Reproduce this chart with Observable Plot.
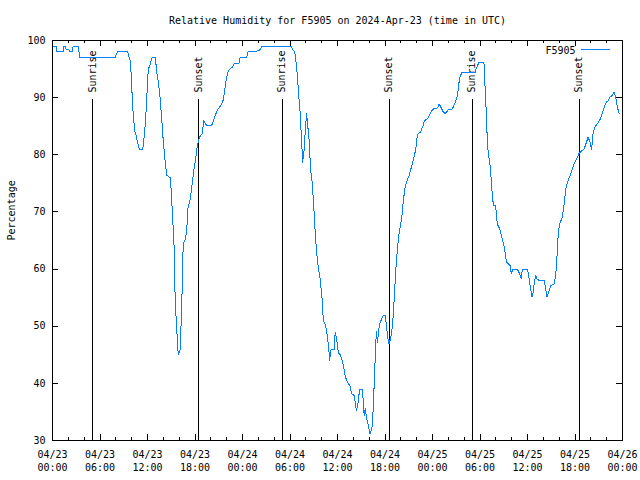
<!DOCTYPE html>
<html><head><meta charset="utf-8">
<script src="https://cdn.jsdelivr.net/npm/d3@7"></script>
<script src="https://cdn.jsdelivr.net/npm/@observablehq/plot@0.6"></script>
<style>
body{margin:0;background:#fff}
#chart{width:640px;height:480px}
</style></head><body><div id="chart"></div>
<script>
const title = "Relative Humidity for F5905 on 2024-Apr-23 (time in UTC)";
const yLabel = "Percentage";
const seriesName = "F5905";
const startUTC = Date.UTC(2024, 3, 23);

// hours since 2024-04-23 00:00 UTC
const hours = [0,0.45,0.5,1.35,1.45,1.6,1.7,2.0,2.2,2.5,2.6,3.0,3.3,3.4,7.9,8.2,9.5,9.8,9.9,10.0,10.2,10.4,10.55,10.7,10.97,11.4,11.6,11.77,11.9,12.1,12.3,12.57,13.0,13.16,13.4,13.6,13.8,14.0,14.2,14.43,14.85,15.0,15.36,15.5,15.7,15.8,15.9,16.1,16.25,16.45,16.5,16.8,16.96,17.1,17.4,17.66,17.87,18.08,18.3,18.5,18.7,18.9,19.13,19.34,19.55,20.1,20.4,20.65,20.9,21.24,21.5,21.66,21.83,22.0,22.17,22.4,22.7,23.0,23.55,23.7,24.5,24.7,26.1,26.5,30.1,30.35,30.6,30.76,30.93,31.1,31.26,31.43,31.6,31.77,31.94,32.1,32.2,32.4,32.6,32.8,33.0,33.2,33.4,33.6,33.8,34.1,34.2,34.5,34.7,34.9,35.0,35.2,35.6,35.7,35.87,36.1,36.4,36.76,37.0,37.26,37.56,37.77,38.1,38.3,38.4,38.6,38.8,39.1,39.24,39.37,39.5,39.7,39.9,40.1,40.26,40.4,40.55,40.7,40.8,40.9,41.06,41.2,41.4,41.6,41.8,42.0,42.2,42.3,42.5,42.7,42.95,43.16,43.37,43.6,43.8,44.1,44.3,44.5,44.7,45.05,45.27,45.5,45.7,45.9,46.0,46.2,46.5,46.8,47.0,47.4,47.6,47.8,48.1,48.64,48.85,49.06,49.36,49.6,49.9,50.1,50.5,50.8,51.1,51.26,51.4,51.7,52.0,53.4,53.5,53.85,54.5,54.63,54.8,54.93,55.05,55.2,55.35,55.43,55.56,55.7,55.98,56.1,56.28,56.5,56.7,56.9,57.1,57.25,57.37,57.58,57.8,57.96,58.17,58.72,58.93,59.2,59.35,60.0,60.2,60.4,60.57,60.7,60.87,61.04,61.16,61.46,62.1,62.3,62.47,62.64,62.93,63.35,63.57,63.73,63.9,64.07,64.4,64.6,64.83,65.04,65.4,65.67,65.97,66.2,66.5,66.85,67.15,67.45,67.65,67.9,68.1,68.3,68.5,68.8,69.1,69.3,69.5,69.76,69.97,70.2,70.43,70.7,70.94,71.15,71.36,71.57];
const rh = [99,99,98,98,99,99,98.5,98.5,98,98,99,99,99,97,97,98,98,96.5,95,92,87,84,83.4,82.5,81,81,83.4,86.3,89.8,95,95.6,97,97,94.5,92.4,89.8,86.3,82.2,79.3,76.4,76,73.7,64,54.2,49.5,46.6,45,45.7,50.7,59.5,64.4,65.3,67,70.5,72.3,75.2,77.5,79.3,81.6,82.8,83.4,83.7,86,85.4,85.1,85.1,86.3,87.2,88,88.6,89.2,90.4,92.1,93.6,94.5,95,95.3,96,96,97,97,98,98.2,99,99,98.4,98,96.2,93.9,90.4,87.7,83.4,78.7,80.7,84.5,87.2,85.7,82.8,77.5,75.2,71.1,65.9,62.4,60,58.3,54.2,51,50.1,48.4,46,44,46,46,49,48,45.4,44.9,43.1,41.1,40.2,39.6,38.2,37.9,36.1,35.2,36.7,39,39,37.3,34.4,35.6,33.8,32.6,31.2,31.8,32.6,36.7,42.5,45.4,49,47.2,49.5,50.7,51.3,51.9,51.9,50.1,48.4,46.9,47.8,50.1,54.8,60,64.1,66.5,68.8,71.7,74,75.2,76.4,77.5,78.7,79.9,81,82.8,83.7,84,85.1,86,86.3,86.9,87.5,88,88.2,88.9,88.3,87.5,87.2,87.7,88,88,88.9,90.1,91.5,93.3,94.4,94.4,94.4,95,96.1,96.1,92.1,87.2,82.2,80.2,79,77,75.2,72.9,71.1,71.1,68.8,67.6,67,65.9,64.7,63.6,62.1,61.2,60.9,60.6,59.2,60,60,59.4,58.3,60,60,58.3,56.5,55.1,55.9,57.7,58.9,58.3,58,58,56.5,55.1,55.9,57.1,57.4,58.9,62.4,66.5,67.9,69.1,71.1,74,75.2,76.4,77.5,78.7,79.3,80.2,80.7,81,82.2,83.1,82.2,81,84,84.8,85.4,86,86.6,87.5,88.6,89.2,89.5,90.1,90.4,91,90.1,88.3,87.2];

const eventLabels = ["Sunrise","Sunset","Sunrise","Sunset","Sunrise","Sunset"];
const eventHours = [5.05, 18.5, 29.0, 42.52, 53.0, 66.54];
const yTicks = [30,40,50,60,70,80,90,100];
const xMajorHours = [0,6,12,18,24,30,36,42,48,54,60,66,72];
const xMinorHours = [2,4,8,10,14,16,20,22,26,28,32,34,38,40,44,46,50,52,56,58,62,64,68,70];

const toDate = h => new Date(startUTC + h * 3600e3);
const data = hours.map((h, i) => ({t: toDate(h), v: rh[i]}));
const events = eventHours.map((h, i) => ({t: toDate(h), label: eventLabels[i]}));
const xMajor = xMajorHours.map(toDate);
const xMinor = xMinorHours.map(toDate);

const W = 640, H = 480, mL = 52, mR = 18, mT = 40, mB = 40;
const plotW = W - mL - mR, plotH = H - mT - mB;
const lineColor = "#0080ff";

const chart = Plot.plot({
  width: W, height: H,
  marginLeft: mL, marginRight: mR, marginTop: mT, marginBottom: mB,
  style: {fontFamily: "DejaVu Sans Mono", fontSize: "10px", background: "#fff", color: "#000", overflow: "visible"},
  x: {type: "utc", domain: [toDate(0), toDate(72)]},
  y: {domain: [30, 100]},
  marks: [
    Plot.axisX({ticks: xMajor, anchor: "bottom", tickSize: 0, tickPadding: 9, lineHeight: 1.25,
      tickFormat: d3.utcFormat("%m/%d\n%H:%M"), label: null}),
    Plot.axisY({ticks: yTicks, anchor: "left", tickSize: 0, tickPadding: 7, label: null}),
    Plot.tickX(xMinor, {x: d => d, insetTop: plotH - 3, stroke: "#000"}),
    Plot.tickX(xMinor, {x: d => d, insetBottom: plotH - 3, stroke: "#000"}),
    Plot.tickX(xMajor, {x: d => d, insetTop: plotH - 6, stroke: "#000"}),
    Plot.tickX(xMajor, {x: d => d, insetBottom: plotH - 6, stroke: "#000"}),
    Plot.tickY(yTicks, {y: d => d, insetRight: plotW - 6, stroke: "#000"}),
    Plot.tickY(yTicks, {y: d => d, insetLeft: plotW - 6, stroke: "#000"}),
    Plot.ruleX(events, {x: "t", y1: 30, y2: 89.7, stroke: "#000"}),
    Plot.text(events, {x: "t", y: 90.9, text: "label", rotate: -90, textAnchor: "start", fill: "#000"}),
    Plot.line(data, {x: "t", y: "v", stroke: lineColor, strokeWidth: 1}),
    Plot.frame({stroke: "#000"}),
    Plot.text([title], {frameAnchor: "top", dy: -20, lineAnchor: "middle", text: d => d, fill: "#000"}),
    Plot.text([yLabel], {frameAnchor: "left", dx: -41, rotate: -90, text: d => d, fill: "#000"}),
    Plot.text([seriesName], {frameAnchor: "top-right", dx: -47, dy: 10, lineAnchor: "middle", textAnchor: "end", text: d => d, fill: "#000"})
  ]
});

// legend sample line
d3.select(chart).append("line")
  .attr("x1", W - mR - 41).attr("x2", W - mR - 12)
  .attr("y1", mT + 9.5).attr("y2", mT + 9.5)
  .attr("stroke", lineColor).attr("stroke-width", 1);

d3.select(chart).selectAll("line, path, rect").attr("shape-rendering", "crispEdges");
document.getElementById("chart").appendChild(chart);
</script>
</body></html>
